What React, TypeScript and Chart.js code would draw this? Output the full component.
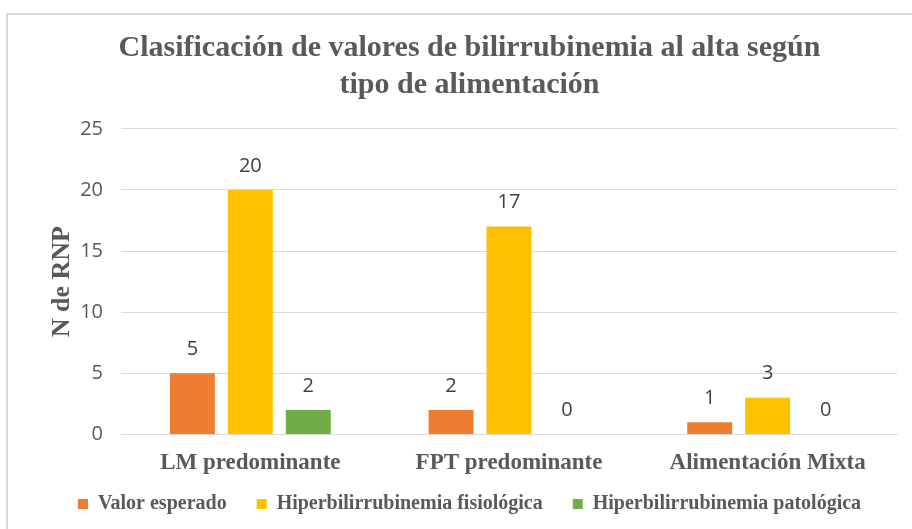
import React, { useEffect, useRef } from "react";
import { Chart, registerables } from "chart.js";

Chart.register(...registerables);

const categories = ["LM predominante", "FPT predominante", "Alimentación Mixta"];
const seriesNames = ["Valor esperado", "Hiperbilirrubinemia fisiológica", "Hiperbilirrubinemia patológica"];
const valorEsperado = [5, 2, 1];
const fisiologica = [20, 17, 3];
const patologica = [2, 0, 0];
const seriesColors = ["#ED7D31", "#FFC000", "#70AD47"];
const yTicks = [0, 5, 10, 15, 20, 25];
const titleLines = ["Clasificación de valores de bilirrubinemia al alta según", "tipo de alimentación"];
const yTitle = "N de RNP";

const SERIF = "'Liberation Serif', 'Times New Roman', serif";
const SANS = "'Open Sans', 'Liberation Sans', sans-serif";
const LEGEND_PAD = 30;
const LEGEND_FONT = 20;

const dataLabels = {
  id: "dataLabels",
  afterDatasetsDraw(chart: any) {
    const ctx = chart.ctx;
    ctx.save();
    ctx.font = `20px ${SANS}`;
    ctx.fillStyle = "#404040";
    ctx.textAlign = "center";
    ctx.textBaseline = "middle";
    chart.data.datasets.forEach((ds: any, i: number) => {
      const meta = chart.getDatasetMeta(i);
      meta.data.forEach((bar: any, j: number) => {
        ctx.fillText(String(ds.data[j]), bar.x, bar.y - 24);
      });
    });
    ctx.restore();
  },
};

const legendShift = {
  id: "legendShift",
  afterLayout(chart: any) {
    const lg = chart.legend;
    if (!lg) return;
    const dy = 504 - (lg.top + LEGEND_PAD + LEGEND_FONT / 2);
    lg.top += dy;
    lg.bottom += dy;
  },
};

export default function App() {
  const ref = useRef<HTMLCanvasElement>(null);
  useEffect(() => {
    document.body.style.margin = "0";
    const chart = new Chart(ref.current!, {
      type: "bar",
      data: {
        labels: categories,
        datasets: [valorEsperado, fisiologica, patologica].map((d, i) => ({
          label: seriesNames[i],
          data: d,
          backgroundColor: seriesColors[i],
          categoryPercentage: 0.672,
          barPercentage: 0.776,
        })),
      },
      options: {
        animation: false,
        responsive: false,
        layout: { padding: { left: 42, right: 15, top: 0, bottom: -23 } },
        plugins: {
          title: {
            display: true,
            text: titleLines,
            color: "#595959",
            font: { family: SERIF, size: 30, weight: "bold", lineHeight: 1.23 },
            padding: { top: 30, bottom: 25 },
          },
          legend: {
            position: "bottom",
            labels: {
              color: "#595959",
              font: { family: SERIF, size: LEGEND_FONT, weight: "bold" },
              boxWidth: 10,
              boxHeight: 10,
              padding: LEGEND_PAD,
            },
          },
          tooltip: { enabled: false },
        },
        scales: {
          x: {
            grid: { display: false, drawTicks: false },
            border: { color: "#D9D9D9" },
            ticks: {
              color: "#595959",
              font: { family: SERIF, size: 23, weight: "bold" },
              padding: 15,
            },
          },
          y: {
            min: 0,
            max: 25,
            afterBuildTicks: (s: any) => {
              s.ticks = yTicks.map((v) => ({ value: v }));
            },
            afterFit: (s: any) => {
              s.width = 79;
            },
            grid: { color: "#D9D9D9", drawTicks: false },
            border: { display: false },
            ticks: {
              color: "#595959",
              font: { family: SANS, size: 20 },
              padding: 18,
            },
            title: {
              display: true,
              text: yTitle,
              color: "#595959",
              font: { family: SERIF, size: 26, weight: "bold" },
              padding: { top: 4.4, bottom: 0 },
            },
          },
        },
      },
      plugins: [dataLabels, legendShift],
    });
    return () => chart.destroy();
  }, []);
  return (
    <div style={{ position: "relative", width: 912, height: 529, background: "#fff" }}>
      <div
        style={{
          position: "absolute",
          left: 6,
          top: 13,
          width: 920,
          height: 530,
          border: "2px solid #D9D9D9",
          boxSizing: "border-box",
        }}
      />
      <canvas ref={ref} width={912} height={529} style={{ position: "absolute", left: 0, top: 0 }} />
    </div>
  );
}
